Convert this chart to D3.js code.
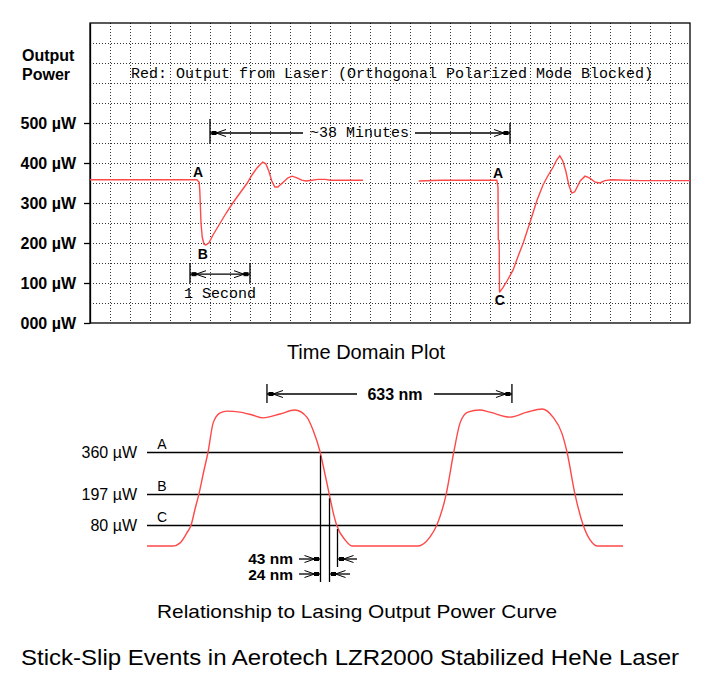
<!DOCTYPE html>
<head>
  <meta charset="utf-8">
  <script src="https://d3js.org/d3.v7.min.js"></script>
  <style>
    body { margin:0; background:#fff; }
    svg { display:block; }
    text { font-family: Arial, "Liberation Sans", sans-serif; fill:#000; }
    .mono { font-family: "Courier New", "Liberation Mono", monospace; }
  </style>
</head>

<body>
	<script type='text/javascript'>
		// time domain trace, seconds on screen vs output power (uW)
		var seg1Time  = [0, 1.78, 1.82, 1.83, 1.85, 1.87, 1.90, 1.93, 1.98, 2.05, 2.17, 2.27, 2.38, 2.50, 2.62, 2.70, 2.78, 2.85, 2.88, 2.93, 2.98, 3.03, 3.08, 3.13, 3.22, 3.30, 3.37, 3.45, 3.53, 3.60, 3.70, 3.80, 3.92, 4.00, 4.55];
		var seg1Power = [358, 358, 352, 330, 250, 215, 197, 195, 200, 220, 250, 275, 300, 325, 350, 370, 387, 398, 402, 398, 380, 355, 340, 340, 352, 363, 367, 363, 357, 355, 357, 359, 359, 357, 357];

		var seg2Time  = [5.48, 5.83, 6.33, 6.78, 6.80, 6.805, 6.82, 6.825, 6.83, 6.88, 6.95, 7.05, 7.13, 7.22, 7.33, 7.45, 7.55, 7.62, 7.72, 7.78, 7.83, 7.88, 7.93, 7.98, 8.03, 8.08, 8.17, 8.25, 8.33, 8.42, 8.50, 8.58, 8.70, 9.17, 10.0];
		var seg2Power = [355, 357, 357, 357, 340, 208, 206, 80, 78, 88, 105, 132, 165, 200, 250, 307, 345, 365, 390, 408, 418, 405, 380, 345, 325, 328, 355, 367, 362, 352, 350, 356, 358, 356, 356];

		var yTicks = [0, 100, 200, 300, 400, 500];

		// lasing output power curve, nm vs uW
		var curveNm    = [0, 67, 85, 103, 114, 124, 134, 146, 158, 171, 189, 207, 240, 270, 300, 344, 382, 413, 429, 447, 459, 471, 480, 490, 512, 530, 700, 731, 749, 773, 793, 809, 829, 860, 886, 938, 982, 1021, 1049, 1072, 1085, 1106, 1127, 1145, 1163, 1230];
		var curvePower = [0, 0, 11, 50, 80, 140, 197, 280, 360, 469, 507, 514, 510, 500, 488, 503, 518, 491, 442, 360, 280, 197, 135, 80, 23, 0, 0, 34, 80, 197, 360, 469, 510, 518, 510, 491, 510, 522, 491, 430, 360, 197, 80, 23, 0, 0];

		var levels = [360, 197, 80];
		var levelLetters = ["A", "B", "C"];
		var crossNm = [447, 471, 490];

		var svg = d3.select('body').append('svg')
			.attr('width', 714).attr('height', 695);

		svg.append('rect').attr('width', 714).attr('height', 695).attr('fill', '#fff');

		// ---------- top plot ----------
		var x = d3.scaleLinear().domain([0, 10]).range([90, 690]);
		var y = d3.scaleLinear().domain([0, 750]).range([323, 23]);

		var grid = svg.append('g')
			.attr('stroke', '#333')
			.attr('stroke-width', 1)
			.attr('stroke-dasharray', '1,2')
			.attr('shape-rendering', 'crispEdges');

		grid.selectAll('.vg').data(d3.range(1, 30)).enter().append('line')
			.attr('x1', d => Math.round(x(d / 3)) + 0.5).attr('x2', d => Math.round(x(d / 3)) + 0.5)
			.attr('y1', y(750)).attr('y2', y(0));
		grid.selectAll('.hg').data(d3.range(50, 750, 50)).enter().append('line')
			.attr('x1', x(0)).attr('x2', x(10))
			.attr('y1', d => y(d) + 0.5).attr('y2', d => y(d) + 0.5);

		svg.append('rect')
			.attr('x', x(0)).attr('y', y(750))
			.attr('width', x(10) - x(0)).attr('height', y(0) - y(750))
			.attr('fill', 'none').attr('stroke', '#000').attr('stroke-width', 1.3);

		var yAxis = d3.axisLeft(y)
			.tickValues(yTicks)
			.tickSize(6).tickSizeOuter(0).tickPadding(8)
			.tickFormat(d => d3.format('03d')(d) + ' µW');

		var axis = svg.append('g')
			.attr('transform', 'translate(' + x(0) + ',0)')
			.call(yAxis);
		axis.select('.domain').attr('stroke-width', 1.3);
		axis.selectAll('line').attr('stroke-width', 1.3);
		axis.selectAll('text')
			.attr('font-family', 'Arial, "Liberation Sans", sans-serif')
			.attr('font-size', 16).attr('font-weight', 'bold')
			.attr('fill', '#000');

		svg.append('text').attr('x', 22).attr('y', 61).attr('font-size', 16).attr('font-weight', 'bold').text('Output');
		svg.append('text').attr('x', 22).attr('y', 80).attr('font-size', 16).attr('font-weight', 'bold').text('Power');

		var line = d3.line().x(d => x(d[0])).y(d => y(d[1]));
		svg.append('path')
			.datum(d3.zip(seg1Time, seg1Power))
			.attr('d', line).attr('fill', 'none').attr('stroke', '#ff4848').attr('stroke-width', 1.4);
		svg.append('path')
			.datum(d3.zip(seg2Time, seg2Power))
			.attr('d', line).attr('fill', 'none').attr('stroke', '#ff4848').attr('stroke-width', 1.4);

		svg.append('text').attr('class', 'mono')
			.attr('x', 131).attr('y', 78).attr('font-size', 15)
			.text('Red: Output from Laser (Orthogonal Polarized Mode Blocked)');

		// arrow head: dot at tip and open chevron, dir +1 points right
		function arrowHead(g, xTip, yy, dir) {
			g.append('rect').attr('x', xTip - 2).attr('y', yy - 1.5).attr('width', 4).attr('height', 3).attr('fill', '#000');
			g.append('path')
				.attr('d', 'M' + (xTip - dir * 12) + ',' + (yy - 3.5) + 'L' + (xTip - dir * 2) + ',' + yy + 'L' + (xTip - dir * 12) + ',' + (yy + 3.5))
				.attr('fill', 'none').attr('stroke', '#000').attr('stroke-width', 1);
		}

		var ann = svg.append('g').attr('stroke', '#000');

		// ~38 minutes
		var mY = y(475);
		ann.append('line').attr('x1', x(2)).attr('x2', x(2)).attr('y1', mY - 14).attr('y2', mY + 11).attr('stroke-width', 1.3);
		ann.append('line').attr('x1', x(7)).attr('x2', x(7)).attr('y1', mY - 10).attr('y2', mY + 11).attr('stroke-width', 1.3);
		ann.append('line').attr('x1', x(2)).attr('x2', 303).attr('y1', mY).attr('y2', mY).attr('stroke-width', 1.3);
		ann.append('line').attr('x1', 415).attr('x2', x(7)).attr('y1', mY).attr('y2', mY).attr('stroke-width', 1.3);
		arrowHead(ann, x(2) + 4, mY, -1);
		arrowHead(ann, x(7) - 4, mY, 1);
		svg.append('text').attr('class', 'mono').attr('x', 310).attr('y', mY + 4).attr('font-size', 15).text('~38 Minutes');

		// 1 second
		var sY = y(122);
		ann.append('line').attr('x1', x(5 / 3)).attr('x2', x(5 / 3)).attr('y1', sY - 11).attr('y2', sY + 9).attr('stroke-width', 1.3);
		ann.append('line').attr('x1', x(8 / 3)).attr('x2', x(8 / 3)).attr('y1', sY - 11).attr('y2', sY + 9).attr('stroke-width', 1.3);
		ann.append('line').attr('x1', x(5 / 3)).attr('x2', x(8 / 3)).attr('y1', sY).attr('y2', sY).attr('stroke-width', 1.3);
		arrowHead(ann, x(5 / 3) + 4, sY, -1);
		arrowHead(ann, x(8 / 3) - 4, sY, 1);
		svg.append('text').attr('class', 'mono').attr('x', 184).attr('y', 298).attr('font-size', 15).text('1 Second');

		// event letters
		var topLetters = [["A", 1.8, 177], ["B", 1.88, 259], ["A", 6.8, 178], ["C", 6.83, 305]];
		svg.selectAll('.tl').data(topLetters).enter().append('text')
			.attr('x', d => x(d[1])).attr('y', d => d[2])
			.attr('text-anchor', 'middle').attr('font-size', 14).attr('font-weight', 'bold')
			.text(d => d[0]);

		svg.append('text').attr('x', 366).attr('y', 359).attr('text-anchor', 'middle').attr('font-size', 20).text('Time Domain Plot');

		// ---------- bottom plot ----------
		var bx = d3.scaleLinear().domain([0, 1230]).range([147, 623]);
		var by = d3.scaleLinear().domain([0, 520]).range([546, 409.5]);

		svg.selectAll('.lv').data(levels).enter().append('line')
			.attr('x1', bx(0)).attr('x2', bx(1230))
			.attr('y1', d => Math.round(by(d)) + 0.5).attr('y2', d => Math.round(by(d)) + 0.5)
			.attr('stroke', '#000').attr('stroke-width', 1.3);

		svg.selectAll('.lvl').data(levels).enter().append('text')
			.attr('x', 137).attr('y', d => by(d) + 6)
			.attr('text-anchor', 'end').attr('font-size', 16)
			.text(d => d + ' µW');

		svg.selectAll('.lvc').data(levels).enter().append('text')
			.attr('x', 162).attr('y', d => by(d) - 3)
			.attr('text-anchor', 'middle').attr('font-size', 14)
			.text((d, i) => levelLetters[i]);

		var bline = d3.line().x(d => bx(d[0])).y(d => by(d[1])).curve(d3.curveMonotoneX);
		svg.append('path')
			.datum(d3.zip(curveNm, curvePower))
			.attr('d', bline).attr('fill', 'none').attr('stroke', '#ff4848').attr('stroke-width', 1.4);

		// crossing markers
		var crossBottom = [582, 582, 567];
		svg.selectAll('.cx').data(crossNm).enter().append('line')
			.attr('x1', d => Math.round(bx(d)) + 0.5).attr('x2', d => Math.round(bx(d)) + 0.5)
			.attr('y1', (d, i) => by(levels[i]) + 4).attr('y2', (d, i) => crossBottom[i])
			.attr('stroke', '#000').attr('stroke-width', 1.3);

		// 633 nm
		var nY = 394;
		ann.append('line').attr('x1', bx(310)).attr('x2', bx(310)).attr('y1', nY - 10).attr('y2', nY + 9).attr('stroke-width', 1.3);
		ann.append('line').attr('x1', bx(943)).attr('x2', bx(943)).attr('y1', nY - 10).attr('y2', nY + 9).attr('stroke-width', 1.3);
		ann.append('line').attr('x1', bx(310)).attr('x2', 357).attr('y1', nY).attr('y2', nY).attr('stroke-width', 1.3);
		ann.append('line').attr('x1', 434).attr('x2', bx(943)).attr('y1', nY).attr('y2', nY).attr('stroke-width', 1.3);
		arrowHead(ann, bx(310) + 4, nY, -1);
		arrowHead(ann, bx(943) - 4, nY, 1);
		svg.append('text').attr('x', 395).attr('y', nY + 6).attr('text-anchor', 'middle').attr('font-size', 16).attr('font-weight', 'bold').text('633 nm');

		// 43 nm and 24 nm
		var widths = [["43 nm", 559, 490, 357, 564], ["24 nm", 574, 471, 350, 580]];
		widths.forEach(function (w) {
			var xa = Math.round(bx(447)) + 0.5, xb = Math.round(bx(w[2])) + 0.5;
			ann.append('line').attr('x1', 299).attr('x2', xa).attr('y1', w[1]).attr('y2', w[1]).attr('stroke-width', 1.3);
			arrowHead(ann, xa - 4, w[1], 1);
			ann.append('line').attr('x1', xb).attr('x2', w[3]).attr('y1', w[1]).attr('y2', w[1]).attr('stroke-width', 1.3);
			arrowHead(ann, xb + 4, w[1], -1);
			svg.append('text').attr('x', 293).attr('y', w[4]).attr('text-anchor', 'end').attr('font-size', 15.5).attr('font-weight', 'bold').text(w[0]);
		});

		svg.append('text').attr('x', 357).attr('y', 618).attr('text-anchor', 'middle').attr('font-size', 19)
			.attr('textLength', 400).attr('lengthAdjust', 'spacingAndGlyphs')
			.text('Relationship to Lasing Output Power Curve');
		svg.append('text').attr('x', 350).attr('y', 665).attr('text-anchor', 'middle').attr('font-size', 22)
			.attr('textLength', 658).attr('lengthAdjust', 'spacingAndGlyphs')
			.text('Stick-Slip Events in Aerotech LZR2000 Stabilized HeNe Laser');
	</script>
</body>
